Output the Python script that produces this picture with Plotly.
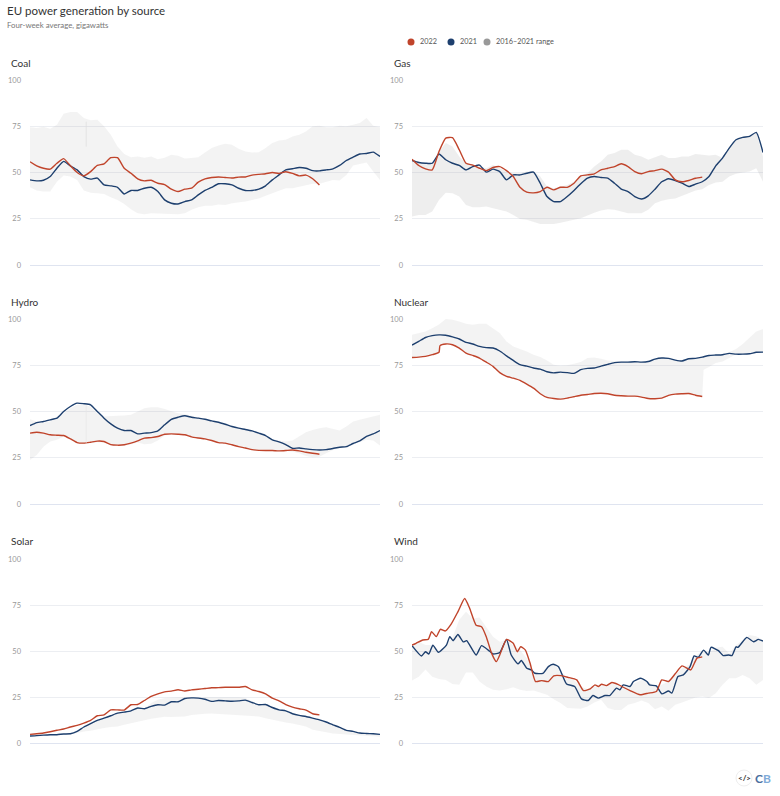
import plotly.graph_objects as go
from plotly.subplots import make_subplots

# Data at weekly steps (week 0 to 52)
weeks = list(range(53))

coal_2022 = [55.8,53.6,52.3,51.8,55,57.5,53.6,50,48.2,50.5,53.8,54.7,58,58,52.3,49.6,46.6,45.5,45.8,44.2,43.5,41,39.7,41,41.5,44.8,46.6,47.3,47.6,47.3,47,47.5,47.6,48.6,49,49.3,50,49.5,50.4,49.5,48.2,48.6,46.6,43.3]
coal_2021 = [46,45.5,45.8,47.8,52.3,56,53.6,51.4,47.8,46.4,47,43.3,42.8,42,38.4,40.3,40.3,41.5,42,39.7,35.2,33.4,33,34.3,35.2,37.9,40.3,42,43.9,43.9,43.3,41.5,40.3,40.3,41,42.8,46,48.7,51.4,52,52.7,52.3,51,50.9,51.4,52,53.8,56.5,58.3,60,60.3,61,58.7]
coal_hi = [74.4,74,74.7,73.6,75.8,81.8,82.7,82.7,79.4,78.2,78.5,75,70.4,64,60,58.3,58.7,58,58.7,57.2,58,59.6,59,57.6,57.8,58.3,60.8,63.2,64.6,65.5,65,62.8,61.4,60.8,61,63.2,65.9,67.3,67.7,69.5,70.4,72.2,75,75.3,74.5,74.5,75.3,75,75.8,76.7,79.4,75.3,74.5]
coal_lo = [42,40.3,39.7,39.7,45,48.4,47.8,46,40.3,39,38.8,38.4,36.6,35.2,33,30.1,28,27.4,28,28,27.6,27.6,27.4,28,29.8,31.2,32,32,32.7,32.5,33.4,33.8,34.3,35.2,36,37.4,38.8,40.3,41.5,41.5,42.4,43.3,43.9,43.9,45,46,45.7,48.7,53.8,54.5,55.4,50.5,46]
coal_notch = [77.5, 64]

gas_2022 = [57.2,53.8,52,51.4,61.4,68.6,68.8,62.3,55,54,52.3,51,52.7,53.2,51,47.8,42,39.4,39,39.7,42,40.6,42,42,44.2,48.2,48.7,49.3,51.4,52.3,53.2,54.7,53.2,50.5,49.3,50.5,51,51.8,50.2,46,45,45.7,46.9,47.5]
gas_2021 = [56.5,55.4,55,55,60,56.9,55,53.8,51.4,53.2,54,50.2,51.8,50.5,46,48.7,48.7,49.6,50.2,44.2,37,34.3,34.3,37,40.3,43.9,46.9,47.8,47.3,47,44.2,41,39.7,37,35.7,37.4,41,45,46.6,45.7,44.2,42.4,43.7,45,47.8,53.6,57.8,63.2,67.7,69,69.5,71.7,60.8]
gas_hi = [56.5,56,55,55,61.4,66,64,58.7,55,54,53.2,52.3,54,52.3,50.5,49.6,49.6,50.5,50.5,47.8,42.4,41.5,42.4,43.3,45,48.7,49.6,53.2,56,59.6,60.5,62.3,62.3,59.6,58.7,56.9,58.3,59.6,57.8,57.8,58.7,58.7,60,59.6,59.2,59.6,57.8,63.2,67.7,69,69.5,71.7,58.7]
gas_lo = [26.2,27,27,28.9,35.2,39,38.8,37,32.5,31.2,31.2,31.6,30.7,29.8,28.9,27,24.9,24.4,23.5,22.2,22.2,22.2,22.9,23.5,24.4,25.3,27,28.3,29.4,30.1,29.8,28.9,28,28,28,29.8,33.4,34.7,35.6,36,37.4,39,40.3,41,43.3,44.6,45,47.8,49.3,50,50.5,52.3,45]

hydro_2022 = [38.3,38.8,38.3,37.4,37.2,37,35.2,33.2,32.9,33.4,34,33.8,32.1,31.8,32,32.9,34.1,35.6,35.9,36.5,37.7,37.9,37.7,37.4,36.3,35.7,35.2,34.3,33.2,32.9,32,31,30.3,29.4,29,28.9,28.9,28.7,28.9,29.2,28.7,28,27.4,26.9]
hydro_2021 = [42.4,44,44.6,45.5,46.4,50,52.7,54.5,54.2,53.6,50,46.4,43.3,41,39.7,39.7,37.9,38.3,38.6,39.5,42.8,45.8,46.9,47.7,46.9,46.4,45.8,44.9,44.2,43.1,41.9,41,40.3,39.5,38.3,37,34.7,33.6,32.1,30.1,30.3,29.8,29.4,29.2,29.4,30,30.7,31,32.7,34.1,36.5,37.9,39.7]
hydro_hi = [45.8,44.6,44,44.6,46.4,49,51.8,53.6,53.6,52.7,49,47.3,47.3,47.7,47.8,48.2,50,51.8,52.3,52.3,51.4,50,49,48.7,47.7,46.9,45.8,44.9,44.2,43.1,41.9,41,40.3,39.5,38.3,37,35,34.3,33.8,34.3,36.5,38.8,40,41,41.5,40.4,39.7,41.9,44.6,45.5,46.4,47.7,48.2]
hydro_lo = [23.8,26.5,31,33.8,34.7,36.5,35.6,32.9,32.5,32.9,33.4,33.2,32,31.4,31.4,32.3,33.2,32.3,32.5,34.3,37,37.7,37.5,37.2,36.1,35.5,35,34.1,33,32.7,31.8,30.9,30.2,29.2,28.9,28.7,28.7,28.5,28.7,28.3,27.4,26,25.3,25.6,27.4,29.2,30.3,30.7,32.3,33.6,34.7,34.3,31.6]
hydro_notch = [53.5, 33]

nuclear_2022 = [79.2,79.4,79.8,80.7,82,85.6,86.5,86.1,84.3,81.6,80.3,78.9,76.7,74.4,71,69,68,66.8,64.8,62.6,59.6,57.6,57,56.7,57.2,58,58.8,59.2,59.7,59.9,59.6,58.8,58.5,58.3,58.3,57.8,57,56.9,57.2,58.7,59.4,59.6,59.7,58.8,58.1]
nuclear_2022_weeks = [0,1,2,3,4,4.15] + list(range(5,44))
nuclear_2021 = [85.9,87.9,90,91,91.4,91.2,90.3,89.2,87.4,86.5,85.2,84.5,84.3,82.7,80.1,77.6,75.3,74.5,73.5,72.9,71.5,70.9,71.3,71,70.6,72.6,73.3,73.5,74.5,75.5,76.4,76.7,76.7,76.9,76.7,77,78.3,78.9,78.7,77.8,77.3,78.5,78.7,79.4,80.3,80.5,80.7,81.4,81,81,81.2,82,82.1]
nuclear_hi = [91.5,92.4,93.3,95,97,100,99.6,98.7,97.5,96.9,97.5,97.5,95.1,92.4,87.9,85.2,83.8,82.5,80.7,79.4,77.6,75.3,74.7,75,75.8,76.7,78.9,79.2,78.5,77.6,77.3,77.1,77,77,76.7,77,78.3,78.9,78.7,77.8,77.3,78.5,78.7,79.4,80.3,80.5,81,82,83.8,86.5,89.7,93.3,94.6]
nuclear_lo = nuclear_2022 + [72.6,74,76.2,77,78.9,81,81,81.2,82,82.1]
nuclear_lo_weeks = nuclear_2022_weeks + [43.2,44,45,46,47,48,49,50,51,52]

solar_2022 = [4.7,5,5.4,6.1,6.9,7.6,8.7,9.6,10.8,12.3,14.8,15.3,18,18,17.9,20.8,20.9,23.1,25.3,26.7,27.8,28.2,28.9,28.3,28.9,29.2,29.6,30,30.1,30.3,30.3,30.3,30.7,28.9,28,26.7,24.4,22.9,20.9,19.5,18.6,17.9,15.9,15.3]
solar_2021 = [3.8,4,4.3,4.5,4.5,4.9,5,6.3,8.7,10.5,12.3,13.5,14.8,16.2,16.8,17.5,19,18.6,19.9,20.8,20.6,22.4,22.4,24.2,24.5,24.4,23.8,22.6,23.1,22.9,22.7,22.9,23.3,22,20.8,20.9,19.3,18,17.5,15.9,15,14.4,13.5,12.6,11.4,9.9,8.5,6.9,6.3,5.4,5.2,5,4.7]
solar_hi = [3.8,4,4.3,4.5,4.5,4.9,5,6.3,8.7,10.5,12.3,13.5,14.8,16.2,16.8,17.5,19,18.6,21.7,23.5,24.4,24.7,24.9,24.9,24.9,24.9,24.9,24.9,24.9,24.9,24.9,24.9,24.4,22.6,20.8,20.9,19.3,18,17.5,15.9,15,14.4,13.5,12.6,11.4,9.9,8.5,6.9,6.3,5.4,5.2,5,4.7]
solar_lo = [3.8,3.8,4.1,4.3,4.3,4.5,4.7,5.4,6.3,6.7,7.2,8.1,8.7,9,9.9,10.6,11.4,12.3,13.2,13.9,14.3,14.1,14.1,14.4,15.2,15.7,15.9,16.1,15.9,15.5,15.2,15,15,14.8,14.4,13.5,12.6,11.9,11.2,10.6,9.9,9,7.2,6.5,5.8,5.2,4.9,4.7,4.3,4,3.8,3.6,3.4]

# Wind is noisier, so its lines are read at their turning points
wind_2022_weeks = [0,0.6,1.6,2.4,2.9,3.6,4.2,4.95,5.8,6.8,7.8,8.5,9.5,10.3,11,11.8,12.5,13,14,15,15.6,16.1,16.8,17.5,18.3,19.2,20.2,21,22.1,23.1,24.4,25.4,26.4,27.1,27.6,28.1,28.8,29.6,30.5,31.3,32.3,33.8,35,36.2,37,38,39,40,41.3,42.2,43]
wind_2022 = [53.2,54.2,56,56.3,60.5,57.8,61.8,60.9,64.6,71.3,78.5,73.6,64,63.2,57.8,48.7,44.2,47.8,56.3,54.2,49.6,52.3,50.5,43.3,33.4,33.9,33.4,36.5,36.6,35.7,34.3,28.5,29.4,31.6,30.7,31.9,31.2,32.9,31.9,30.3,28.5,26.2,27.1,28,34.3,33.4,37.6,41.9,39.7,46,46.8]
wind_2021_weeks = [0,1.4,2,2.5,3.1,3.9,5.1,5.6,6.1,6.8,7.6,8.1,9.5,10.3,11.3,12,13,14,14.7,15.7,16.2,17,17.7,18.2,19.4,20.2,20.9,21.7,22.9,24.1,25.1,26.1,26.8,27.6,28.6,29.3,30.3,30.8,31.3,32.3,32.8,33.9,34.8,35.2,36.2,37,38,38.5,39.4,40.2,41.2,41.8,42.4,43.2,43.9,44.3,45.4,46.1,46.9,47.4,48,48.3,49.6,50.6,51.3,52]
wind_2021 = [52.9,47.3,49.6,48.4,53.2,49.3,53.2,57.8,55.6,59,55,55.6,47.8,52.9,50.5,48.4,49.1,56.3,47.8,43,44.8,40.6,39.7,37.9,37.9,41.5,42.8,41.5,32.1,30.7,24,23.1,25.8,24.4,25.8,25.8,29.8,28.9,31.6,30.7,33.4,35.2,33.4,31.6,31,26.7,28.3,27.1,36.1,37,41.5,47.3,46.6,50.5,47.8,52,50.2,47.5,47.8,47.5,52.3,52,57.4,55,56.3,55.4]
wind_hi = [53.2,55,53.2,53.2,50.2,53.2,57.4,67,71.3,67.7,68.2,63.2,57.8,55,56,53.2,50.5,46,38.8,37.9,41.5,42.8,38.8,36,34.3,30.7,29.2,30.7,30.7,31.6,32.5,31.6,30.7,32.5,34.3,33.4,30.7,31.6,33.4,37,40.6,42.4,47.3,50.2,49,51.8,52.3,48.7,53.2,56,58.7,58,56]
wind_lo = [33.9,36,40,36,34.8,34.3,32.1,31.6,38.3,38.3,33.4,30.7,28.9,28.5,29.2,30.3,28.9,28.3,28.5,27.4,26.2,23.8,21.7,19,18.6,18.6,19.9,22,23.5,19,18,18,20.8,21.7,23.1,21.7,18.4,19.9,17.5,20.8,22,23.5,24.7,25.3,24.4,27,31.6,35.2,35.2,37,35.2,31.6,34.3]

panel_titles = ['Coal', 'Gas', 'Hydro', 'Nuclear', 'Solar', 'Wind']
legend_labels = ['2022', '2021', '2016\u20132021 range']
y_ticks = [0, 25, 50, 75, 100]

colors = {'2022': '#c0442b', '2021': '#1d3f6e', 'range': '#999999'}
band_color = 'rgba(150,150,150,0.11)'
W, H = 780, 796

fig = make_subplots(rows=3, cols=2)

panels = [
    (1, 1, coal_2022, weeks[:44], coal_2021, weeks, coal_hi, weeks, coal_lo),
    (1, 2, gas_2022, weeks[:44], gas_2021, weeks, gas_hi, weeks, gas_lo),
    (2, 1, hydro_2022, weeks[:44], hydro_2021, weeks, hydro_hi, weeks, hydro_lo),
    (2, 2, nuclear_2022, nuclear_2022_weeks, nuclear_2021, weeks, nuclear_hi, nuclear_lo_weeks, nuclear_lo),
    (3, 1, solar_2022, weeks[:44], solar_2021, weeks, solar_hi, weeks, solar_lo),
    (3, 2, wind_2022, wind_2022_weeks, wind_2021, wind_2021_weeks, wind_hi, weeks, wind_lo),
]

for row, col, y22, x22, y21, x21, hi, lo_x, lo in panels:
    # Gas has a slightly heavier band in the original
    fill = 'rgba(150,150,150,0.16)' if (row, col) == (1, 2) else band_color
    fig.add_trace(go.Scatter(x=weeks, y=hi, mode='lines', line=dict(width=0),
                             hoverinfo='skip'), row=row, col=col)
    fig.add_trace(go.Scatter(x=lo_x, y=lo, mode='lines', line=dict(width=0),
                             fill='tonexty', fillcolor=fill,
                             hoverinfo='skip'), row=row, col=col)
    fig.add_trace(go.Scatter(x=x21, y=y21, mode='lines', name='2021',
                             line=dict(color=colors['2021'], width=1.4, shape='spline', smoothing=0.5)),
                  row=row, col=col)
    fig.add_trace(go.Scatter(x=x22, y=y22, mode='lines', name='2022',
                             line=dict(color=colors['2022'], width=1.4, shape='spline', smoothing=0.5)),
                  row=row, col=col)

# Thin gaps in the range band
fig.add_trace(go.Scatter(x=[8.35, 8.35], y=coal_notch, mode='lines', hoverinfo='skip',
                         line=dict(color='#dddddd', width=0.7)), row=1, col=1)
fig.add_trace(go.Scatter(x=[8.35, 8.35], y=hydro_notch, mode='lines', hoverinfo='skip',
                         line=dict(color='#e6e6e6', width=0.7)), row=2, col=1)

# Panel positions in pixels from the reference
col_px = {1: (30, 380), 2: (412, 763)}
row_px = {1: (80, 265), 2: (319, 504), 3: (559, 743)}
for row in row_px:
    for col in col_px:
        x0, x1 = col_px[col]
        y0, y1 = row_px[row]
        fig.update_xaxes(domain=[x0 / W, x1 / W], range=[0, 52], visible=False,
                         automargin=False, row=row, col=col)
        fig.update_yaxes(domain=[1 - y1 / H, 1 - y0 / H], range=[0, 100], tickvals=y_ticks,
                         automargin=False, gridcolor='#eceef2', gridwidth=1, zeroline=True,
                         zerolinecolor='#dfe4f0', zerolinewidth=1,
                         showline=False, ticks='', ticklabelstandoff=8,
                         tickfont=dict(size=7.5, color='#999999'), row=row, col=col)

font_name = 'Lato'
annotations = [
    dict(text='EU power generation by source', x=5 / W, y=1 - 11 / H, xanchor='left', yanchor='middle',
         font=dict(size=11.5, color='#333333')),
    dict(text='Four-week average, gigawatts', x=5 / W, y=1 - 25 / H, xanchor='left', yanchor='middle',
         font=dict(size=7.8, color='#777777')),
    dict(text='<b>&lt;/&gt;</b>', x=744 / W, y=1 - 778 / H, xanchor='center', yanchor='middle',
         font=dict(size=8, color='#333333')),
    dict(text='<b><span style="color:#4a6fa0">C</span><span style="color:#7fabd8">B</span></b>',
         x=763 / W, y=1 - 778 / H, xanchor='center', yanchor='middle', font=dict(size=12)),
]
title_y = {1: 63, 2: 302, 3: 541}
for i, title in enumerate(panel_titles):
    r, c = i // 2 + 1, i % 2 + 1
    annotations.append(dict(text=title, x=(9 if c == 1 else 392) / W, y=1 - title_y[r] / H,
                            xanchor='left', yanchor='middle',
                            font=dict(size=10, color='#333333')))

# Legend is hand-placed: the original has its dots tight against the labels
shapes = [dict(type='circle', xref='paper', yref='paper',
               x0=736 / W, x1=752 / W, y0=1 - 786 / H, y1=1 - 770 / H,
               line=dict(color='#eeeeee', width=1), fillcolor='white', layer='below')]
legend_dots = [411, 451, 487]
for label, key, dot in zip(legend_labels, ['2022', '2021', 'range'], legend_dots):
    shapes.append(dict(type='circle', xref='paper', yref='paper',
                       x0=(dot - 3.5) / W, x1=(dot + 3.5) / W, y0=1 - 45.5 / H, y1=1 - 38.5 / H,
                       line=dict(width=0), fillcolor=colors[key]))
    annotations.append(dict(text=label, x=(dot + 7) / W, y=1 - 42 / H, xanchor='left', yanchor='middle',
                            font=dict(size=7.3, color='#555555')))

for a in annotations:
    a.update(xref='paper', yref='paper', showarrow=False)

fig.update_layout(
    width=W, height=H, autosize=False,
    margin=dict(l=0, r=0, t=0, b=0),
    paper_bgcolor='white', plot_bgcolor='white',
    font=dict(family=font_name),
    annotations=annotations,
    shapes=shapes,
    showlegend=False,
)

fig.write_html("out.html", config=dict(displayModeBar=False),
               post_script="document.body.style.margin='0';")
